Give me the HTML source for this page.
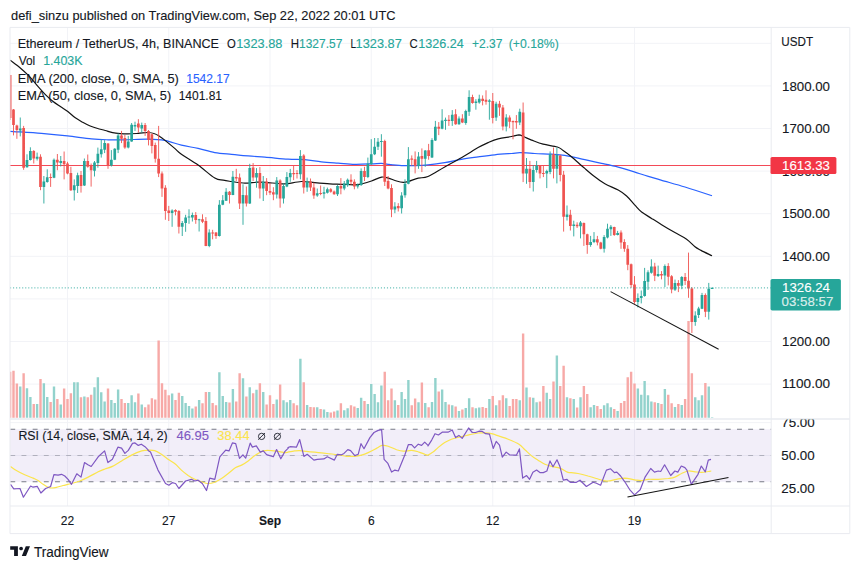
<!DOCTYPE html>
<html><head><meta charset="utf-8"><title>ETHUSDT chart</title>
<style>
html,body{margin:0;padding:0;background:#fff;}
body{width:860px;height:569px;overflow:hidden;position:relative;font-family:"Liberation Sans",sans-serif;color:#131722;}
svg{position:absolute;left:0;top:0;display:block;}
text{font-family:"Liberation Sans",sans-serif;}
</style></head><body>
<svg width="860" height="569" viewBox="0 0 860 569">
<rect width="860" height="569" fill="#ffffff"/>
<defs><clipPath id="cm"><rect x="10" y="27.4" width="761.2" height="391.6"/></clipPath><clipPath id="cr"><rect x="10" y="419.5" width="839.8" height="86.5"/></clipPath></defs>
<path d="M10 384.10H771.2M10 341.50H771.2M10 298.90H771.2M10 256.30H771.2M10 213.70H771.2M10 171.10H771.2M10 128.50H771.2M10 85.90H771.2M10 43.30H771.2M67.50 27.4V506M168.75 27.4V506M270.00 27.4V506M371.25 27.4V506M492.75 27.4V506M634.50 27.4V506M10 422.62H771.2M10 455.50H771.2M10 488.38H771.2" stroke="#f2f3f7" stroke-width="1" fill="none"/>
<g clip-path="url(#cm)">
<path d="M19.05 417.8v-31.41h2.4v31.41zM25.80 417.8v-29.57h2.4v29.57zM29.18 417.8v-20.88h2.4v20.88zM35.92 417.8v-13.87h2.4v13.87zM42.67 417.8v-34.58h2.4v34.58zM46.05 417.8v-20.88h2.4v20.88zM52.80 417.8v-31.41h2.4v31.41zM59.55 417.8v-13.36h2.4v13.36zM73.05 417.8v-35.58h2.4v35.58zM76.42 417.8v-35.58h2.4v35.58zM83.17 417.8v-21.38h2.4v21.38zM93.30 417.8v-30.57h2.4v30.57zM96.67 417.8v-40.43h2.4v40.43zM100.05 417.8v-25.56h2.4v25.56zM103.42 417.8v-16.37h2.4v16.37zM110.17 417.8v-17.88h2.4v17.88zM113.55 417.8v-14.70h2.4v14.70zM116.92 417.8v-28.40h2.4v28.40zM127.05 417.8v-14.70h2.4v14.70zM130.43 417.8v-22.55h2.4v22.55zM133.80 417.8v-15.54h2.4v15.54zM140.55 417.8v-13.36h2.4v13.36zM170.93 417.8v-24.22h2.4v24.22zM181.05 417.8v-21.72h2.4v21.72zM184.43 417.8v-14.70h2.4v14.70zM187.80 417.8v-11.69h2.4v11.69zM191.18 417.8v-9.19h2.4v9.19zM197.93 417.8v-17.88h2.4v17.88zM208.05 417.8v-25.89h2.4v25.89zM218.18 417.8v-45.44h2.4v45.44zM221.55 417.8v-21.72h2.4v21.72zM224.93 417.8v-15.87h2.4v15.87zM231.68 417.8v-28.73h2.4v28.73zM241.80 417.8v-39.59h2.4v39.59zM248.55 417.8v-30.57h2.4v30.57zM255.30 417.8v-28.07h2.4v28.07zM262.05 417.8v-25.89h2.4v25.89zM275.55 417.8v-18.38h2.4v18.38zM282.30 417.8v-17.54h2.4v17.54zM285.68 417.8v-15.54h2.4v15.54zM289.05 417.8v-17.88h2.4v17.88zM299.18 417.8v-58.97h2.4v58.97zM305.93 417.8v-12.86h2.4v12.86zM316.05 417.8v-10.52h2.4v10.52zM322.80 417.8v-8.35h2.4v8.35zM326.18 417.8v-5.85h2.4v5.85zM336.30 417.8v-7.18h2.4v7.18zM343.05 417.8v-7.52h2.4v7.52zM346.43 417.8v-9.52h2.4v9.52zM356.55 417.8v-9.69h2.4v9.69zM359.93 417.8v-20.05h2.4v20.05zM366.68 417.8v-13.87h2.4v13.87zM370.05 417.8v-33.75h2.4v33.75zM373.43 417.8v-23.72h2.4v23.72zM376.80 417.8v-15.54h2.4v15.54zM380.18 417.8v-32.24h2.4v32.24zM393.68 417.8v-17.54h2.4v17.54zM400.43 417.8v-25.89h2.4v25.89zM403.80 417.8v-18.71h2.4v18.71zM407.18 417.8v-37.92h2.4v37.92zM417.30 417.8v-15.54h2.4v15.54zM424.05 417.8v-14.70h2.4v14.70zM430.80 417.8v-15.87h2.4v15.87zM434.18 417.8v-39.76h2.4v39.76zM440.93 417.8v-28.40h2.4v28.40zM444.30 417.8v-15.87h2.4v15.87zM451.05 417.8v-12.53h2.4v12.53zM457.80 417.8v-6.68h2.4v6.68zM464.55 417.8v-9.69h2.4v9.69zM467.93 417.8v-19.55h2.4v19.55zM474.68 417.8v-9.52h2.4v9.52zM478.05 417.8v-10.36h2.4v10.36zM488.18 417.8v-18.71h2.4v18.71zM494.93 417.8v-12.53h2.4v12.53zM505.05 417.8v-19.55h2.4v19.55zM518.55 417.8v-17.54h2.4v17.54zM525.30 417.8v-30.40h2.4v30.40zM532.05 417.8v-20.05h2.4v20.05zM535.42 417.8v-15.54h2.4v15.54zM545.55 417.8v-25.06h2.4v25.06zM548.92 417.8v-18.71h2.4v18.71zM555.67 417.8v-62.31h2.4v62.31zM565.80 417.8v-20.55h2.4v20.55zM572.55 417.8v-18.71h2.4v18.71zM579.30 417.8v-20.55h2.4v20.55zM589.42 417.8v-10.52h2.4v10.52zM592.80 417.8v-12.86h2.4v12.86zM602.92 417.8v-12.53h2.4v12.53zM606.30 417.8v-14.53h2.4v14.53zM609.67 417.8v-10.52h2.4v10.52zM616.42 417.8v-6.68h2.4v6.68zM636.67 417.8v-29.23h2.4v29.23zM640.05 417.8v-23.05h2.4v23.05zM643.42 417.8v-36.75h2.4v36.75zM646.80 417.8v-22.55h2.4v22.55zM650.17 417.8v-16.37h2.4v16.37zM656.92 417.8v-14.70h2.4v14.70zM663.67 417.8v-28.73h2.4v28.73zM673.80 417.8v-10.86h2.4v10.86zM680.55 417.8v-12.86h2.4v12.86zM694.05 417.8v-20.55h2.4v20.55zM697.42 417.8v-17.54h2.4v17.54zM700.80 417.8v-22.55h2.4v22.55zM707.55 417.8v-31.24h2.4v31.24zM710.92 417.8v-0.67h2.4v0.67z" fill="#92d2cc"/>
<path d="M8.93 417.8v-45.94h2.4v45.94zM12.30 417.8v-47.11h2.4v47.11zM15.68 417.8v-34.25h2.4v34.25zM22.43 417.8v-44.60h2.4v44.60zM32.55 417.8v-13.87h2.4v13.87zM39.30 417.8v-38.76h2.4v38.76zM49.42 417.8v-15.87h2.4v15.87zM56.17 417.8v-18.88h2.4v18.88zM62.92 417.8v-29.23h2.4v29.23zM66.30 417.8v-18.71h2.4v18.71zM69.67 417.8v-24.56h2.4v24.56zM79.80 417.8v-20.55h2.4v20.55zM86.55 417.8v-20.55h2.4v20.55zM89.92 417.8v-23.05h2.4v23.05zM106.80 417.8v-29.23h2.4v29.23zM120.30 417.8v-18.88h2.4v18.88zM123.67 417.8v-14.70h2.4v14.70zM137.18 417.8v-24.22h2.4v24.22zM143.93 417.8v-10.52h2.4v10.52zM147.30 417.8v-13.36h2.4v13.36zM150.68 417.8v-19.55h2.4v19.55zM154.05 417.8v-18.38h2.4v18.38zM157.43 417.8v-77.35h2.4v77.35zM160.80 417.8v-34.58h2.4v34.58zM164.18 417.8v-28.07h2.4v28.07zM167.55 417.8v-22.55h2.4v22.55zM174.30 417.8v-17.88h2.4v17.88zM177.68 417.8v-25.06h2.4v25.06zM194.55 417.8v-11.36h2.4v11.36zM201.30 417.8v-14.53h2.4v14.53zM204.68 417.8v-25.89h2.4v25.89zM211.43 417.8v-14.70h2.4v14.70zM214.80 417.8v-12.53h2.4v12.53zM228.30 417.8v-15.37h2.4v15.37zM235.05 417.8v-16.37h2.4v16.37zM238.43 417.8v-44.60h2.4v44.60zM245.18 417.8v-21.38h2.4v21.38zM251.93 417.8v-24.56h2.4v24.56zM258.68 417.8v-34.58h2.4v34.58zM265.43 417.8v-13.36h2.4v13.36zM268.80 417.8v-22.55h2.4v22.55zM272.18 417.8v-13.70h2.4v13.70zM278.93 417.8v-33.41h2.4v33.41zM292.43 417.8v-14.53h2.4v14.53zM295.80 417.8v-12.53h2.4v12.53zM302.55 417.8v-35.58h2.4v35.58zM309.30 417.8v-10.86h2.4v10.86zM312.68 417.8v-10.52h2.4v10.52zM319.43 417.8v-8.85h2.4v8.85zM329.55 417.8v-5.35h2.4v5.35zM332.93 417.8v-6.35h2.4v6.35zM339.68 417.8v-14.53h2.4v14.53zM349.80 417.8v-12.53h2.4v12.53zM353.18 417.8v-11.36h2.4v11.36zM363.30 417.8v-16.71h2.4v16.71zM383.55 417.8v-45.94h2.4v45.94zM386.93 417.8v-17.54h2.4v17.54zM390.30 417.8v-29.23h2.4v29.23zM397.05 417.8v-12.86h2.4v12.86zM410.55 417.8v-12.53h2.4v12.53zM413.93 417.8v-19.21h2.4v19.21zM420.68 417.8v-35.42h2.4v35.42zM427.43 417.8v-10.52h2.4v10.52zM437.55 417.8v-26.39h2.4v26.39zM447.68 417.8v-13.36h2.4v13.36zM454.43 417.8v-11.36h2.4v11.36zM461.18 417.8v-8.35h2.4v8.35zM471.30 417.8v-10.52h2.4v10.52zM481.43 417.8v-10.86h2.4v10.86zM484.80 417.8v-9.69h2.4v9.69zM491.55 417.8v-21.72h2.4v21.72zM498.30 417.8v-17.54h2.4v17.54zM501.68 417.8v-22.55h2.4v22.55zM508.43 417.8v-11.69h2.4v11.69zM511.80 417.8v-18.71h2.4v18.71zM515.17 417.8v-18.71h2.4v18.71zM521.92 417.8v-84.36h2.4v84.36zM528.67 417.8v-20.55h2.4v20.55zM538.80 417.8v-16.37h2.4v16.37zM542.17 417.8v-31.74h2.4v31.74zM552.30 417.8v-36.42h2.4v36.42zM559.05 417.8v-31.74h2.4v31.74zM562.42 417.8v-52.12h2.4v52.12zM569.17 417.8v-19.55h2.4v19.55zM575.92 417.8v-10.36h2.4v10.36zM582.67 417.8v-31.74h2.4v31.74zM586.05 417.8v-23.72h2.4v23.72zM596.17 417.8v-11.69h2.4v11.69zM599.55 417.8v-8.69h2.4v8.69zM613.05 417.8v-8.69h2.4v8.69zM619.80 417.8v-14.70h2.4v14.70zM623.17 417.8v-16.71h2.4v16.71zM626.55 417.8v-40.43h2.4v40.43zM629.92 417.8v-45.94h2.4v45.94zM633.30 417.8v-34.25h2.4v34.25zM653.55 417.8v-15.54h2.4v15.54zM660.30 417.8v-13.70h2.4v13.70zM667.05 417.8v-23.05h2.4v23.05zM670.42 417.8v-14.53h2.4v14.53zM677.17 417.8v-13.87h2.4v13.87zM683.92 417.8v-18.88h2.4v18.88zM687.30 417.8v-96.89h2.4v96.89zM690.67 417.8v-44.60h2.4v44.60zM704.17 417.8v-34.75h2.4v34.75z" fill="#f7a9a7"/>
<path d="M10 165.5H771.2" stroke="#f23645" stroke-opacity="0.9" stroke-width="1.15" fill="none"/>
<path d="M10.0 131.3C15.2 131.7 31.8 132.6 41.4 133.4C51.0 134.2 59.1 135.0 67.5 135.9C75.8 136.8 84.7 138.2 91.5 138.8C98.3 139.5 102.6 139.6 108.2 139.8C113.8 140.0 118.4 139.9 125.0 139.8C131.6 139.7 141.4 139.1 148.0 139.2C154.6 139.3 159.1 139.4 164.7 140.4C170.3 141.4 175.8 143.8 181.4 145.1C187.0 146.4 192.5 147.2 198.1 148.4C203.7 149.7 209.2 151.6 214.8 152.6C220.4 153.6 225.9 153.8 231.5 154.3C237.1 154.9 242.6 155.4 248.2 155.9C253.8 156.4 258.3 156.6 264.9 157.1C271.5 157.6 281.4 158.8 288.0 159.2C294.6 159.6 299.1 159.3 304.7 159.7C310.3 160.1 315.8 161.2 321.4 161.8C327.0 162.4 332.5 162.7 338.1 163.1C343.7 163.5 349.2 164.2 354.8 164.3C360.4 164.4 367.0 164.0 371.5 163.8C376.0 163.7 378.8 163.3 381.6 163.4C384.4 163.5 384.9 163.9 388.2 164.3C391.5 164.7 397.1 165.4 401.6 165.6C406.1 165.8 410.6 165.7 415.0 165.6C419.4 165.5 423.1 165.4 428.0 164.9C432.9 164.4 439.1 163.6 444.7 162.7C450.3 161.8 455.8 160.3 461.4 159.3C467.0 158.3 472.5 157.6 478.1 156.8C483.7 156.1 489.2 155.4 494.8 154.8C500.4 154.2 507.3 153.8 511.5 153.5C515.7 153.2 516.0 152.7 519.9 152.7C523.8 152.7 529.5 153.2 534.7 153.5C540.0 153.8 546.4 153.9 551.4 154.2C556.4 154.5 559.2 154.5 564.8 155.4C570.4 156.3 578.7 158.4 584.8 159.7C590.9 161.0 595.9 162.2 601.5 163.4C607.1 164.6 612.6 165.7 618.2 167.1C623.8 168.5 629.9 170.5 634.9 172.1C639.9 173.7 643.9 175.1 648.3 176.4C652.6 177.7 654.9 178.3 661.0 180.1C667.1 181.9 676.5 184.4 685.0 187.0C693.5 189.6 707.5 194.3 712.0 195.8" stroke="#2962ff" stroke-width="1.2" fill="none" stroke-linejoin="round"/>
<path d="M10.2 60.2C11.8 61.5 16.9 65.1 20.0 67.7C23.1 70.3 25.9 72.8 28.9 75.9C31.9 79.0 35.1 83.3 37.9 86.4C40.6 89.5 42.9 92.1 45.4 94.6C47.9 97.1 50.3 99.3 52.8 101.3C55.3 103.3 57.8 104.9 60.3 106.6C62.8 108.3 65.3 109.6 67.8 111.5C70.3 113.4 72.8 116.0 75.3 117.8C77.8 119.6 80.2 120.9 82.7 122.3C85.2 123.7 87.7 125.0 90.2 126.0C92.7 127.0 95.2 127.8 97.7 128.5C100.2 129.2 102.7 129.8 105.2 130.5C107.7 131.2 110.1 132.2 112.6 132.7C115.1 133.2 117.5 133.4 120.1 133.6C122.7 133.8 125.0 133.9 128.0 133.9C131.0 133.9 135.0 133.6 138.3 133.4C141.6 133.2 145.3 132.4 148.0 132.5C150.7 132.6 152.8 133.0 154.7 133.7C156.6 134.3 158.0 135.3 159.7 136.4C161.4 137.5 162.2 138.1 164.7 140.1C167.2 142.1 171.9 146.0 174.7 148.4C177.5 150.8 177.5 151.5 181.4 154.3C185.3 157.1 192.5 161.1 198.1 165.1C203.7 169.1 210.6 175.6 214.8 178.1C219.0 180.6 220.4 179.6 223.2 180.2C226.0 180.8 227.9 181.0 231.5 181.5C235.1 182.0 240.7 183.1 244.9 183.2C249.1 183.3 253.3 182.3 256.6 182.2C259.9 182.0 260.7 182.0 264.9 182.3C269.1 182.6 277.8 183.6 281.6 183.8C285.5 184.0 284.7 184.0 288.0 183.6C291.3 183.2 296.9 181.7 301.4 181.5C305.8 181.3 310.0 182.2 314.7 182.6C319.4 183.0 325.3 183.5 329.8 183.8C334.3 184.1 337.3 184.1 341.5 184.3C345.7 184.5 351.2 184.9 354.8 184.8C358.4 184.7 360.4 184.1 363.2 183.5C366.0 182.9 368.4 182.1 371.5 181.0C374.6 179.9 378.8 177.6 381.6 177.1C384.4 176.6 385.7 177.4 388.2 178.1C390.7 178.8 394.1 180.3 396.6 181.0C399.1 181.7 401.4 182.2 403.3 182.3C405.2 182.4 405.8 182.2 408.3 181.5C410.8 180.8 415.0 178.9 418.3 178.1C421.6 177.3 423.6 178.4 428.0 176.5C432.4 174.6 439.1 170.0 444.7 166.9C450.3 163.8 455.8 160.9 461.4 157.7C467.0 154.5 473.7 150.1 478.1 147.6C482.6 145.1 484.8 144.1 488.1 142.6C491.5 141.1 494.3 139.8 498.2 138.8C502.1 137.8 508.0 137.2 511.5 136.5C515.0 135.8 516.9 134.8 519.0 134.8C521.1 134.9 522.0 135.9 524.1 136.8C526.2 137.7 528.4 138.9 531.6 140.1C534.8 141.3 538.8 143.0 543.1 144.2C547.4 145.3 554.0 146.0 557.3 147.0C560.6 148.0 560.7 148.8 563.1 150.4C565.5 152.0 567.9 153.7 571.5 156.7C575.1 159.7 580.9 165.1 584.8 168.4C588.7 171.8 591.4 174.2 594.8 176.8C598.1 179.4 601.0 181.6 604.9 183.8C608.8 186.0 614.6 188.1 618.2 190.1C621.8 192.1 623.8 193.5 626.6 196.0C629.4 198.5 632.4 202.5 634.9 205.2C637.4 207.9 638.8 209.8 641.6 212.0C644.4 214.2 648.3 216.3 651.6 218.4C654.9 220.5 657.7 222.3 661.6 224.7C665.5 227.1 670.7 230.2 674.9 232.6C679.1 235.0 683.2 236.8 686.6 239.2C690.0 241.6 692.6 244.9 695.0 246.8C697.4 248.7 698.2 248.9 701.0 250.4C703.8 251.9 710.2 254.9 712.0 255.8" stroke="#141414" stroke-width="1.2" fill="none" stroke-linejoin="round"/>
<path d="M20.25 117.5V136.4M27.00 154.3V167.7M30.38 147.3V160.5M37.12 152.6V160.5M43.88 176.0V203.5M47.25 169.3V182.7M54.00 158.5V178.2M60.75 156.0V166.5M74.25 179.4V200.5M77.62 172.7V193.0M84.38 158.5V186.0M94.50 161.0V176.5M97.88 147.6V167.7M101.25 139.3V157.6M104.62 140.1V153.1M111.38 150.1V166.5M114.75 148.1V160.1M118.12 133.4V153.1M128.25 135.9V148.4M131.62 123.0V141.8M135.00 121.7V130.9M141.75 122.6V132.6M172.12 209.3V226.8M182.25 221.0V236.0M185.62 214.8V231.8M189.00 209.3V223.8M192.38 212.6V221.5M199.12 218.8V231.5M209.25 229.3V247.2M219.38 200.1V236.5M222.75 195.1V205.2M226.12 188.1V201.0M232.88 171.0V195.2M243.00 184.3V224.8M249.75 163.8V204.0M256.50 168.1V187.7M263.25 176.0V201.0M276.75 177.1V198.5M283.50 183.5V203.5M286.88 172.1V187.2M290.25 168.9V181.8M300.38 150.1V179.3M307.12 177.6V191.8M317.25 188.5V196.8M324.00 186.8V198.5M327.38 187.6V193.5M337.50 185.1V196.0M344.25 181.0V190.2M347.62 178.5V186.8M357.75 183.5V188.5M361.12 168.4V186.0M367.88 157.6V178.1M371.25 139.2V164.8M374.62 138.0V155.1M378.00 138.0V150.0M381.38 134.2V156.7M394.88 202.2V213.2M401.62 192.2V213.5M405.00 179.3V197.7M408.38 147.1V184.3M418.50 152.1V168.8M425.25 150.1V166.8M432.00 138.2V158.0M435.38 120.9V141.0M442.12 109.2V129.3M445.50 117.6V129.8M452.25 110.1V125.9M459.00 116.4V124.8M465.75 109.7V124.8M469.12 90.3V115.9M475.88 99.2V109.7M479.25 94.7V103.7M489.38 99.2V119.7M496.12 101.7V120.9M506.25 114.2V131.4M519.75 108.7V125.1M526.50 158.0V183.8M533.25 165.1V191.5M536.62 160.9V172.6M546.75 169.7V188.1M550.12 151.4V174.2M556.88 147.5V183.4M567.00 205.5V220.5M573.75 220.7V236.4M580.50 221.0V238.4M590.62 235.9V246.8M594.00 232.1V243.1M604.12 235.1V252.6M607.50 223.7V238.4M610.88 225.0V235.9M617.62 230.9V235.4M637.88 293.4V307.4M641.25 290.5V303.4M644.62 267.9V296.7M648.00 270.3V289.9M651.38 259.3V273.7M658.12 265.6V277.0M664.88 264.4V287.0M675.00 279.6V291.0M681.75 276.1V289.2M695.25 311.3V325.8M698.62 306.8V318.0M702.00 292.9V309.1M708.75 282.9V319.6M712.12 287.7V288.9" stroke="#26a69a" stroke-width="0.9" fill="none"/>
<path d="M10.12 75.0V120.0M13.50 109.0V135.4M16.88 124.7V138.8M23.62 125.9V169.8M33.75 150.1V163.5M40.50 154.3V190.2M50.62 173.5V186.9M57.38 154.0V170.2M64.12 151.5V179.4M67.50 161.8V174.3M70.88 166.8V191.0M81.00 171.0V192.6M87.75 154.5V167.7M91.12 163.5V186.6M108.00 143.1V168.8M121.50 130.9V143.1M124.88 135.0V148.8M138.38 119.2V132.6M145.12 123.0V135.9M148.50 130.0V145.4M151.88 133.4V153.4M155.25 142.6V162.6M158.62 125.9V177.1M162.00 171.5V196.9M165.38 185.2V219.8M168.75 205.9V221.0M175.50 209.3V215.4M178.88 210.1V233.5M195.75 212.1V223.8M202.50 214.3V223.1M205.88 217.1V246.2M212.62 229.8V239.3M216.00 232.1V238.8M229.50 191.0V203.5M236.25 168.8V181.0M239.62 173.5V209.0M246.38 186.5V206.5M253.12 163.1V181.0M259.88 167.1V198.5M266.62 178.1V195.2M270.00 183.2V194.9M273.38 187.2V200.2M280.12 179.3V207.7M293.62 165.1V180.1M297.00 170.1V178.5M303.75 154.2V193.5M310.50 178.5V191.0M313.88 182.6V198.8M320.62 185.5V195.2M330.75 188.1V192.7M334.12 190.5V194.8M340.88 178.1V194.3M351.00 174.3V184.8M354.38 179.3V189.3M364.50 166.8V181.0M384.75 139.7V186.0M388.12 176.0V189.3M391.50 184.3V217.2M398.25 203.2V211.5M411.75 155.4V165.9M415.12 151.4V173.4M421.88 148.4V172.1M428.62 143.9V159.7M438.75 122.1V135.1M448.88 115.1V125.9M455.62 109.2V124.8M462.38 114.2V123.1M472.50 94.7V103.7M482.62 95.4V105.4M486.00 90.3V104.7M492.75 93.0V123.4M499.50 100.9V115.9M502.88 105.0V130.4M509.62 115.4V128.1M513.00 120.5V139.3M516.38 115.1V128.8M523.12 102.5V182.1M529.88 160.9V188.1M540.00 165.0V178.4M543.38 165.4V177.1M553.50 147.5V178.4M560.25 154.7V181.4M563.62 170.9V231.6M570.38 209.8V230.5M577.12 222.3V228.0M583.88 222.5V245.9M587.25 233.7V253.8M597.38 235.9V245.4M600.75 241.8V249.3M614.25 226.7V235.9M621.00 230.4V248.8M624.38 239.2V251.8M627.75 245.1V270.2M631.12 263.5V287.8M634.50 276.1V303.8M654.75 262.8V281.1M661.50 271.1V279.4M668.25 263.2V285.4M671.62 275.1V293.3M678.38 280.1V292.1M685.12 273.0V285.0M688.50 252.6V297.8M691.88 287.1V333.0M705.38 293.4V317.1" stroke="#ef5350" stroke-width="0.9" fill="none"/>
<path d="M18.90 128.4h2.7V130.4h-2.7zM25.65 160.1h2.7V167.3h-2.7zM29.02 151.0h2.7V160.1h-2.7zM35.77 156.8h2.7V158.8h-2.7zM42.52 181.5h2.7V186.9h-2.7zM45.90 177.2h2.7V181.9h-2.7zM52.65 159.8h2.7V177.7h-2.7zM59.40 161.0h2.7V163.1h-2.7zM72.90 185.2h2.7V190.2h-2.7zM76.28 175.2h2.7V186.0h-2.7zM83.03 161.0h2.7V185.5h-2.7zM93.15 162.6h2.7V170.7h-2.7zM96.53 153.8h2.7V163.1h-2.7zM99.90 149.3h2.7V154.3h-2.7zM103.28 143.1h2.7V149.8h-2.7zM110.03 159.8h2.7V165.5h-2.7zM113.40 148.8h2.7V159.8h-2.7zM116.78 135.4h2.7V149.8h-2.7zM126.90 141.4h2.7V147.6h-2.7zM130.28 124.7h2.7V141.4h-2.7zM133.65 125.0h2.7V126.5h-2.7zM140.40 125.0h2.7V128.4h-2.7zM170.78 210.4h2.7V213.1h-2.7zM180.90 223.1h2.7V226.8h-2.7zM184.28 217.6h2.7V223.1h-2.7zM187.65 216.4h2.7V217.6h-2.7zM191.03 215.1h2.7V217.6h-2.7zM197.78 219.2h2.7V220.2h-2.7zM207.90 232.6h2.7V246.0h-2.7zM218.03 204.7h2.7V236.0h-2.7zM221.40 200.3h2.7V204.8h-2.7zM224.78 191.7h2.7V200.7h-2.7zM231.53 176.8h2.7V194.9h-2.7zM241.65 195.1h2.7V203.5h-2.7zM248.40 168.1h2.7V203.5h-2.7zM255.15 173.1h2.7V177.6h-2.7zM261.90 181.8h2.7V188.5h-2.7zM275.40 180.5h2.7V194.4h-2.7zM282.15 186.0h2.7V198.5h-2.7zM285.52 177.1h2.7V186.5h-2.7zM288.90 172.9h2.7V177.3h-2.7zM299.02 155.9h2.7V174.3h-2.7zM305.77 181.5h2.7V187.6h-2.7zM315.90 193.2h2.7V195.5h-2.7zM322.65 192.2h2.7V193.8h-2.7zM326.02 189.3h2.7V192.7h-2.7zM336.15 186.0h2.7V194.3h-2.7zM342.90 183.5h2.7V188.5h-2.7zM346.27 179.8h2.7V185.1h-2.7zM356.40 184.8h2.7V186.5h-2.7zM359.77 170.9h2.7V185.1h-2.7zM366.52 163.8h2.7V177.1h-2.7zM369.90 154.2h2.7V164.3h-2.7zM373.27 146.7h2.7V154.2h-2.7zM376.65 141.7h2.7V146.7h-2.7zM380.02 140.9h2.7V142.0h-2.7zM393.52 206.5h2.7V209.4h-2.7zM400.27 195.5h2.7V208.2h-2.7zM403.65 183.8h2.7V195.2h-2.7zM407.02 159.2h2.7V183.8h-2.7zM417.15 156.4h2.7V165.9h-2.7zM423.90 150.4h2.7V158.7h-2.7zM430.65 140.1h2.7V157.5h-2.7zM434.02 126.8h2.7V140.5h-2.7zM440.77 120.4h2.7V128.8h-2.7zM444.15 119.7h2.7V120.9h-2.7zM450.90 114.7h2.7V120.9h-2.7zM457.65 118.4h2.7V124.3h-2.7zM464.40 110.9h2.7V123.1h-2.7zM467.77 97.0h2.7V111.7h-2.7zM474.52 101.4h2.7V103.0h-2.7zM477.90 98.7h2.7V102.5h-2.7zM488.02 100.4h2.7V101.7h-2.7zM494.77 103.7h2.7V117.6h-2.7zM504.90 117.6h2.7V126.4h-2.7zM518.40 111.7h2.7V122.6h-2.7zM525.15 168.7h2.7V173.4h-2.7zM531.90 170.1h2.7V182.1h-2.7zM535.27 165.4h2.7V170.1h-2.7zM545.40 170.9h2.7V173.4h-2.7zM548.77 154.2h2.7V172.1h-2.7zM555.52 155.0h2.7V168.7h-2.7zM565.65 214.5h2.7V217.1h-2.7zM572.40 224.5h2.7V226.0h-2.7zM579.15 222.6h2.7V226.2h-2.7zM589.27 242.1h2.7V245.1h-2.7zM592.65 239.2h2.7V242.1h-2.7zM602.77 237.1h2.7V248.8h-2.7zM606.15 228.7h2.7V237.6h-2.7zM609.52 226.7h2.7V229.2h-2.7zM616.27 233.1h2.7V235.1h-2.7zM636.52 297.9h2.7V302.1h-2.7zM639.90 296.1h2.7V297.9h-2.7zM643.27 281.1h2.7V296.1h-2.7zM646.65 272.3h2.7V281.7h-2.7zM650.02 266.6h2.7V272.8h-2.7zM656.77 273.9h2.7V276.1h-2.7zM663.52 266.1h2.7V275.6h-2.7zM673.65 283.0h2.7V289.7h-2.7zM680.40 277.1h2.7V285.8h-2.7zM693.90 315.5h2.7V322.1h-2.7zM697.27 308.4h2.7V315.1h-2.7zM700.65 295.1h2.7V308.8h-2.7zM707.40 288.7h2.7V311.8h-2.7zM710.77 287.7h2.7V288.9h-2.7z" fill="#26a69a"/>
<path d="M8.78 75.0h2.7V118.0h-2.7zM12.15 109.6h2.7V125.0h-2.7zM15.53 125.4h2.7V130.0h-2.7zM22.27 128.0h2.7V167.7h-2.7zM32.40 151.0h2.7V158.5h-2.7zM39.15 156.8h2.7V186.9h-2.7zM49.27 177.0h2.7V178.0h-2.7zM56.02 159.8h2.7V162.6h-2.7zM62.77 161.0h2.7V164.3h-2.7zM66.15 163.5h2.7V173.5h-2.7zM69.53 173.0h2.7V190.2h-2.7zM79.65 175.0h2.7V186.0h-2.7zM86.40 161.0h2.7V166.8h-2.7zM89.78 165.9h2.7V170.3h-2.7zM106.65 143.4h2.7V165.2h-2.7zM120.15 135.4h2.7V138.8h-2.7zM123.53 138.1h2.7V147.6h-2.7zM137.03 123.4h2.7V127.6h-2.7zM143.78 125.0h2.7V130.9h-2.7zM147.15 130.9h2.7V140.1h-2.7zM150.53 134.2h2.7V145.9h-2.7zM153.90 145.0h2.7V158.8h-2.7zM157.28 158.8h2.7V173.5h-2.7zM160.65 173.5h2.7V188.5h-2.7zM164.03 187.8h2.7V210.9h-2.7zM167.40 210.4h2.7V213.1h-2.7zM174.15 210.1h2.7V211.8h-2.7zM177.53 210.9h2.7V226.8h-2.7zM194.40 215.1h2.7V220.1h-2.7zM201.15 219.3h2.7V221.8h-2.7zM204.53 221.0h2.7V246.0h-2.7zM211.28 232.6h2.7V233.6h-2.7zM214.65 232.6h2.7V236.0h-2.7zM228.15 191.8h2.7V194.9h-2.7zM234.90 177.1h2.7V178.5h-2.7zM238.28 177.6h2.7V203.5h-2.7zM245.03 195.2h2.7V203.5h-2.7zM251.78 167.6h2.7V177.6h-2.7zM258.52 173.1h2.7V188.5h-2.7zM265.27 181.5h2.7V191.0h-2.7zM268.65 191.0h2.7V192.7h-2.7zM272.02 192.2h2.7V194.4h-2.7zM278.77 180.5h2.7V198.5h-2.7zM292.27 173.1h2.7V174.3h-2.7zM295.65 173.1h2.7V174.1h-2.7zM302.40 155.4h2.7V187.6h-2.7zM309.15 181.5h2.7V187.6h-2.7zM312.52 187.6h2.7V195.5h-2.7zM319.27 193.1h2.7V194.1h-2.7zM329.40 189.3h2.7V191.8h-2.7zM332.77 191.5h2.7V194.3h-2.7zM339.52 186.0h2.7V188.5h-2.7zM349.65 179.8h2.7V181.8h-2.7zM353.02 181.8h2.7V186.5h-2.7zM363.15 170.9h2.7V177.1h-2.7zM383.40 140.9h2.7V181.8h-2.7zM386.77 181.0h2.7V188.5h-2.7zM390.15 188.1h2.7V209.4h-2.7zM396.90 206.0h2.7V208.2h-2.7zM410.40 158.4h2.7V159.7h-2.7zM413.77 159.2h2.7V165.9h-2.7zM420.52 155.9h2.7V158.7h-2.7zM427.27 150.3h2.7V155.9h-2.7zM437.40 126.8h2.7V128.8h-2.7zM447.52 119.7h2.7V120.9h-2.7zM454.27 114.2h2.7V124.3h-2.7zM461.02 118.4h2.7V122.6h-2.7zM471.15 97.0h2.7V103.0h-2.7zM481.27 98.7h2.7V100.9h-2.7zM484.65 99.7h2.7V101.7h-2.7zM491.40 100.9h2.7V118.1h-2.7zM498.15 103.7h2.7V107.6h-2.7zM501.52 107.6h2.7V126.4h-2.7zM508.27 117.6h2.7V121.8h-2.7zM511.65 121.0h2.7V122.2h-2.7zM515.02 120.9h2.7V122.6h-2.7zM521.77 112.6h2.7V173.4h-2.7zM528.52 168.7h2.7V182.1h-2.7zM538.65 165.4h2.7V173.4h-2.7zM542.02 173.0h2.7V174.0h-2.7zM552.15 154.2h2.7V168.7h-2.7zM558.90 155.4h2.7V175.1h-2.7zM562.27 174.7h2.7V216.8h-2.7zM569.02 214.8h2.7V226.0h-2.7zM575.77 224.7h2.7V226.2h-2.7zM582.52 223.0h2.7V234.2h-2.7zM585.90 234.2h2.7V245.1h-2.7zM596.02 239.2h2.7V242.6h-2.7zM599.40 242.6h2.7V248.8h-2.7zM612.90 227.1h2.7V235.1h-2.7zM619.65 232.6h2.7V242.6h-2.7zM623.02 242.1h2.7V248.8h-2.7zM626.40 248.8h2.7V264.8h-2.7zM629.77 264.3h2.7V285.0h-2.7zM633.15 284.5h2.7V302.1h-2.7zM653.40 266.6h2.7V275.8h-2.7zM660.15 273.9h2.7V275.4h-2.7zM666.90 266.1h2.7V276.7h-2.7zM670.27 276.3h2.7V289.5h-2.7zM677.02 283.0h2.7V285.8h-2.7zM683.77 277.1h2.7V281.1h-2.7zM687.15 280.8h2.7V288.4h-2.7zM690.52 288.4h2.7V322.1h-2.7zM704.02 295.1h2.7V311.8h-2.7z" fill="#ef5350"/>
<path d="M10 287.9H771.2" stroke="#26a69a" stroke-width="1" stroke-dasharray="1.1 1.94" stroke-opacity="0.85" fill="none"/>
<path d="M610.6 291.6L718.6 349.2" stroke="#141414" stroke-width="1.05" fill="none"/>
</g>
<g clip-path="url(#cr)">
<rect x="10" y="429.20" width="761.2" height="52.60" fill="#7e57c2" fill-opacity="0.1"/>
<path d="M10 429.20H771.2" stroke="#787b86" stroke-opacity="1" stroke-width="1.1" stroke-dasharray="4.9 6.28" stroke-dashoffset="-0.3" fill="none"/>
<path d="M10 455.50H771.2" stroke="#787b86" stroke-opacity="0.55" stroke-width="0.9" stroke-dasharray="4.9 6.28" stroke-dashoffset="-0.3" fill="none"/>
<path d="M10 481.80H771.2" stroke="#787b86" stroke-opacity="1" stroke-width="1.1" stroke-dasharray="4.9 6.28" stroke-dashoffset="-0.3" fill="none"/>
<path d="M10.5 466.4C11.5 467.1 14.0 469.1 16.4 470.5C18.7 471.9 21.9 473.5 24.7 474.8C27.5 476.1 30.8 477.2 33.1 478.1C35.3 479.1 36.4 479.5 38.1 480.5C39.7 481.5 41.4 483.2 43.1 484.3C44.8 485.4 46.6 486.6 48.1 487.2C49.5 487.8 50.4 488.0 51.8 488.0C53.2 488.0 54.6 487.8 56.5 487.3C58.3 486.9 60.6 486.1 63.1 485.5C65.6 484.9 68.7 484.2 71.5 483.5C74.3 482.7 77.0 482.0 79.8 481.0C82.6 479.9 85.1 478.7 88.2 477.1C91.3 475.6 95.4 473.2 98.2 471.8C101.0 470.4 102.5 469.9 104.9 469.0C107.3 468.1 109.6 467.8 112.4 466.4C115.2 465.1 118.4 462.8 121.6 460.9C124.8 459.0 128.3 456.8 131.6 455.1C135.0 453.4 138.9 451.8 141.7 450.9C144.4 450.1 145.8 450.1 148.0 450.1C150.2 450.0 152.5 449.9 154.7 450.6C156.9 451.3 159.0 452.7 161.4 454.3C163.7 455.8 166.5 458.1 168.9 459.8C171.2 461.4 173.5 462.6 175.6 464.3C177.6 466.0 179.3 468.3 181.4 470.1C183.5 472.0 185.9 473.9 188.1 475.5C190.3 477.0 192.6 478.3 194.8 479.3C197.0 480.4 199.2 481.1 201.5 481.8C203.7 482.5 205.9 483.4 208.1 483.5C210.4 483.5 212.6 483.0 214.8 482.2C217.0 481.3 219.3 479.9 221.5 478.5C223.7 477.0 225.8 475.3 228.2 473.5C230.6 471.7 233.5 469.0 235.7 467.6C237.9 466.2 239.5 466.2 241.6 465.1C243.6 464.0 246.0 462.5 248.2 460.9C250.5 459.4 252.4 457.3 254.9 455.6C257.4 453.9 260.5 451.8 263.3 450.9C266.1 450.1 269.1 450.5 271.6 450.6C274.1 450.7 276.1 451.1 278.3 451.4C280.5 451.8 283.4 452.5 285.0 452.6C286.6 452.7 286.4 452.4 288.0 452.1C289.6 451.8 292.7 451.2 294.7 450.9C296.6 450.7 297.7 450.5 299.7 450.6C301.6 450.7 303.9 451.1 306.4 451.4C308.9 451.7 312.2 452.0 314.7 452.2C317.2 452.5 318.9 452.7 321.4 452.9C323.9 453.2 327.0 453.5 329.8 453.8C332.5 454.1 335.3 454.3 338.1 454.8C340.9 455.2 343.7 456.0 346.5 456.3C349.3 456.5 352.3 456.5 354.8 456.3C357.3 456.1 359.3 455.7 361.5 455.1C363.7 454.5 366.0 453.6 368.2 452.6C370.4 451.6 373.1 450.2 374.9 449.2C376.7 448.3 377.8 447.4 379.1 446.7C380.3 446.1 380.9 445.5 382.4 445.4C383.9 445.3 385.9 445.5 388.2 446.2C390.6 447.0 394.1 448.9 396.6 449.8C399.1 450.6 400.8 451.1 403.3 451.2C405.8 451.4 409.1 450.3 411.6 450.4C414.1 450.5 416.1 451.1 418.3 451.8C420.5 452.4 423.4 453.7 425.0 454.3C426.6 454.8 426.7 455.5 428.0 455.1C429.3 454.7 431.3 453.3 433.0 452.1C434.7 450.8 436.1 449.2 438.0 447.6C440.0 446.0 442.5 444.0 444.7 442.6C446.9 441.2 448.6 440.2 451.4 439.2C454.2 438.2 458.3 437.5 461.4 436.7C464.5 436.0 467.0 435.3 469.8 434.7C472.5 434.1 475.6 433.3 478.1 433.0C480.6 432.7 482.6 432.8 484.8 432.9C487.0 433.0 489.0 433.1 491.5 433.7C494.0 434.3 497.0 435.5 499.8 436.4C502.6 437.3 505.0 437.9 508.2 439.2C511.4 440.5 516.3 442.5 519.0 444.2C521.8 446.0 522.8 447.8 524.9 449.8C527.0 451.7 529.4 454.1 531.6 455.9C533.8 457.7 536.0 459.0 538.3 460.4C540.5 461.8 542.7 463.3 544.9 464.3C547.2 465.3 549.1 465.8 551.6 466.4C554.1 467.1 557.5 467.2 560.0 468.1C562.5 469.0 565.3 471.1 566.7 471.8C568.0 472.5 566.1 472.0 568.0 472.3C569.9 472.6 574.7 472.9 578.0 473.5C581.4 474.1 585.0 475.1 588.0 476.0C591.1 476.8 593.9 477.7 596.4 478.5C598.9 479.3 601.1 480.2 603.1 480.6C605.0 481.1 605.9 481.2 608.1 481.0C610.3 480.8 613.7 479.8 616.5 479.3C619.2 478.8 621.7 478.1 624.8 478.1C627.9 478.2 632.0 479.4 634.8 479.8C637.6 480.2 639.3 480.7 641.5 480.6C643.7 480.6 645.4 479.5 648.2 479.3C651.0 479.1 654.9 479.5 658.2 479.3C661.6 479.2 665.4 478.8 668.2 478.5C671.0 478.1 672.7 478.0 674.9 477.1C677.1 476.3 679.4 474.5 681.6 473.5C683.8 472.4 686.1 471.2 688.3 471.0C690.5 470.7 692.7 471.6 695.0 471.8C697.2 472.0 699.4 472.4 701.6 472.3C703.9 472.2 706.7 471.7 708.3 471.5C709.9 471.2 710.8 471.0 711.3 471.0" stroke="#fbe44c" stroke-width="1.2" fill="none" stroke-linejoin="round"/>
<path d="M10.5 484.3 L13.8 488.8 L20.0 488.5 L23.4 497.2 L30.6 486.0 L33.1 487.2 L37.2 486.3 L40.9 493.0 L45.6 488.5 L50.6 486.5 L53.9 474.6 L58.1 475.1 L61.5 474.3 L64.8 476.0 L68.1 479.3 L71.5 484.3 L76.8 473.8 L81.0 477.1 L84.5 462.6 L87.9 464.8 L91.2 466.5 L98.2 456.8 L104.6 450.9 L107.9 462.6 L112.4 459.3 L117.9 447.2 L121.6 448.1 L124.9 453.4 L128.3 450.4 L132.5 443.4 L135.0 442.9 L138.3 445.4 L141.3 444.2 L145.0 446.7 L148.3 450.1 L148.0 450.4 L150.5 452.1 L158.0 470.1 L165.5 483.5 L168.9 485.2 L172.2 482.7 L175.6 483.5 L178.9 488.5 L185.6 481.0 L191.4 479.3 L194.8 481.0 L198.1 480.2 L202.3 483.5 L206.5 490.5 L209.8 478.1 L214.8 479.3 L219.8 456.8 L225.7 450.1 L229.0 450.9 L232.4 442.9 L235.7 443.7 L239.5 458.4 L242.9 454.8 L245.7 458.1 L250.2 443.1 L252.4 447.1 L256.3 445.9 L260.3 452.1 L263.3 450.9 L266.6 454.6 L273.3 456.8 L276.6 449.6 L280.8 458.8 L285.0 451.4 L288.3 448.1 L288.0 447.6 L290.0 446.7 L296.4 447.2 L299.7 439.6 L303.9 456.4 L307.2 454.3 L313.9 460.1 L317.2 459.3 L323.9 458.9 L327.3 456.8 L334.4 460.1 L337.3 454.3 L341.5 454.8 L344.0 453.4 L347.8 449.6 L350.6 450.6 L354.8 455.6 L358.2 454.3 L361.0 443.7 L364.0 448.7 L369.9 437.6 L374.0 432.5 L378.2 430.4 L381.6 429.7 L384.1 459.3 L387.9 463.4 L391.6 472.1 L394.9 470.1 L398.3 471.0 L404.9 454.8 L408.3 444.7 L411.6 444.6 L414.6 447.9 L418.3 444.2 L421.6 445.4 L424.7 442.1 L428.0 445.4 L428.0 445.9 L431.7 440.1 L435.0 433.7 L438.4 435.0 L442.2 432.2 L448.0 432.2 L452.2 430.0 L455.6 437.6 L458.9 435.4 L462.2 438.4 L468.6 428.0 L472.3 432.5 L475.6 432.5 L479.0 431.2 L482.3 431.4 L485.6 433.7 L489.5 434.2 L493.2 448.4 L496.2 441.4 L499.5 445.1 L502.3 457.1 L506.2 452.1 L509.5 454.8 L516.5 455.1 L519.4 448.9 L522.7 478.1 L526.6 475.6 L529.6 479.3 L532.9 472.3 L536.6 470.1 L539.9 472.6 L543.3 472.6 L546.9 471.0 L550.0 460.9 L553.0 466.8 L557.0 459.8 L560.0 466.8 L563.3 480.2 L567.0 479.3 L568.0 480.5 L570.5 482.3 L576.4 482.3 L580.0 480.2 L586.4 486.5 L593.1 482.2 L596.4 483.2 L600.6 485.2 L606.4 470.1 L610.6 468.8 L614.4 472.6 L616.8 472.1 L620.6 476.0 L624.8 481.8 L630.1 490.2 L634.5 494.9 L640.2 489.8 L645.2 476.8 L650.7 468.5 L654.5 472.1 L658.2 471.0 L660.7 471.5 L664.6 464.8 L670.7 475.5 L674.9 471.0 L677.8 472.1 L681.3 466.0 L684.9 467.6 L686.9 470.1 L691.3 484.3 L698.0 474.3 L701.3 466.0 L705.3 471.8 L708.3 460.1 L711.0 459.3" stroke="#7e57c2" stroke-width="1.2" fill="none" stroke-linejoin="round"/>
<path d="M627.5 497L728.5 477.6" stroke="#141414" stroke-width="1.05" fill="none"/>
</g>
<path d="M10 27.4H849.8V533.6H10Z M771.2 27.4V533.6 M10 506H849.8" stroke="#e9ebf0" stroke-width="1" fill="none"/>
<path d="M10 419H849.8" stroke="#e9ebf0" stroke-width="1.4" fill="none"/>
<text x="11" y="20.4" font-size="13" fill="#131722" stroke="#131722" stroke-width="0.12" textLength="384.5" lengthAdjust="spacingAndGlyphs" >defi_sinzu published on TradingView.com, Sep 22, 2022 20:01 UTC</text>
<text x="17.7" y="48.0" font-size="13" fill="#131722" stroke="#131722" stroke-width="0.12" textLength="201.3" lengthAdjust="spacingAndGlyphs" >Ethereum / TetherUS, 4h, BINANCE</text>
<text x="227" y="48.0" font-size="13" fill="#131722" stroke="#131722" stroke-width="0.12" textLength="8.8" lengthAdjust="spacingAndGlyphs" >O</text>
<text x="236.2" y="48.0" font-size="13" fill="#26a69a" stroke="#26a69a" stroke-width="0.12" textLength="46.3" lengthAdjust="spacingAndGlyphs" >1323.88</text>
<text x="290.7" y="48.0" font-size="13" fill="#131722" stroke="#131722" stroke-width="0.12" textLength="8.3" lengthAdjust="spacingAndGlyphs" >H</text>
<text x="299" y="48.0" font-size="13" fill="#26a69a" stroke="#26a69a" stroke-width="0.12" textLength="43.3" lengthAdjust="spacingAndGlyphs" >1327.57</text>
<text x="350.6" y="48.0" font-size="13" fill="#131722" stroke="#131722" stroke-width="0.12" textLength="5.6" lengthAdjust="spacingAndGlyphs" >L</text>
<text x="355.6" y="48.0" font-size="13" fill="#26a69a" stroke="#26a69a" stroke-width="0.12" textLength="46.2" lengthAdjust="spacingAndGlyphs" >1323.87</text>
<text x="409.6" y="48.0" font-size="13" fill="#131722" stroke="#131722" stroke-width="0.12" textLength="8.2" lengthAdjust="spacingAndGlyphs" >C</text>
<text x="418.3" y="48.0" font-size="13" fill="#26a69a" stroke="#26a69a" stroke-width="0.12" textLength="45.6" lengthAdjust="spacingAndGlyphs" >1326.24</text>
<text x="472" y="48.0" font-size="13" fill="#26a69a" stroke="#26a69a" stroke-width="0.12" textLength="30.5" lengthAdjust="spacingAndGlyphs" >+2.37</text>
<text x="508.8" y="48.0" font-size="13" fill="#26a69a" stroke="#26a69a" stroke-width="0.12" textLength="50" lengthAdjust="spacingAndGlyphs" >(+0.18%)</text>
<text x="18.7" y="65.3" font-size="13" fill="#131722" stroke="#131722" stroke-width="0.12" textLength="16.5" lengthAdjust="spacingAndGlyphs" >Vol</text>
<text x="43.2" y="65.3" font-size="13" fill="#26a69a" stroke="#26a69a" stroke-width="0.12" textLength="39.3" lengthAdjust="spacingAndGlyphs" >1.403K</text>
<text x="17.8" y="82.7" font-size="13" fill="#131722" stroke="#131722" stroke-width="0.12" textLength="161.1" lengthAdjust="spacingAndGlyphs" >EMA (200, close, 0, SMA, 5)</text>
<text x="186.2" y="82.7" font-size="13" fill="#2962ff" stroke="#2962ff" stroke-width="0.12" textLength="43.6" lengthAdjust="spacingAndGlyphs" >1542.17</text>
<text x="17.8" y="99.8" font-size="13" fill="#131722" stroke="#131722" stroke-width="0.12" textLength="153.4" lengthAdjust="spacingAndGlyphs" >EMA (50, close, 0, SMA, 5)</text>
<text x="178.7" y="99.8" font-size="13" fill="#131722" stroke="#131722" stroke-width="0.12" textLength="43.3" lengthAdjust="spacingAndGlyphs" >1401.81</text>
<text x="18.4" y="440" font-size="13" fill="#131722" stroke="#131722" stroke-width="0.12" textLength="149.3" lengthAdjust="spacingAndGlyphs" >RSI (14, close, SMA, 14, 2)</text>
<text x="176.4" y="440" font-size="13" fill="#7e57c2" stroke="#7e57c2" stroke-width="0.12" textLength="32.6" lengthAdjust="spacingAndGlyphs" >46.95</text>
<text x="217.3" y="440" font-size="13" fill="#fbe44c" stroke="#fbe44c" stroke-width="0.12" textLength="32.3" lengthAdjust="spacingAndGlyphs" >38.44</text>
<circle cx="261.6" cy="436.4" r="3.15" stroke="#131722" stroke-width="0.85" fill="none"/><path d="M258.2 439.7L265.0 433" stroke="#131722" stroke-width="0.85"/>
<circle cx="277.4" cy="436.4" r="3.15" stroke="#131722" stroke-width="0.85" fill="none"/><path d="M274.0 439.7L280.8 433" stroke="#131722" stroke-width="0.85"/>
<text x="781.3" y="45.8" font-size="13" fill="#131722" stroke="#131722" stroke-width="0.12" textLength="31.8" lengthAdjust="spacingAndGlyphs" >USDT</text>
<text x="782" y="91.0" font-size="13" fill="#131722" stroke="#131722" stroke-width="0.12" textLength="48" lengthAdjust="spacingAndGlyphs" >1800.00</text>
<text x="782" y="133.47" font-size="13" fill="#131722" stroke="#131722" stroke-width="0.12" textLength="48" lengthAdjust="spacingAndGlyphs" >1700.00</text>
<text x="782" y="175.94" font-size="13" fill="#131722" stroke="#131722" stroke-width="0.12" textLength="48" lengthAdjust="spacingAndGlyphs" >1600.00</text>
<text x="782" y="218.41" font-size="13" fill="#131722" stroke="#131722" stroke-width="0.12" textLength="48" lengthAdjust="spacingAndGlyphs" >1500.00</text>
<text x="782" y="260.88" font-size="13" fill="#131722" stroke="#131722" stroke-width="0.12" textLength="48" lengthAdjust="spacingAndGlyphs" >1400.00</text>
<text x="782" y="345.82" font-size="13" fill="#131722" stroke="#131722" stroke-width="0.12" textLength="48" lengthAdjust="spacingAndGlyphs" >1200.00</text>
<text x="782" y="388.29" font-size="13" fill="#131722" stroke="#131722" stroke-width="0.12" textLength="48" lengthAdjust="spacingAndGlyphs" >1100.00</text>
<rect x="770.5" y="157" width="65.9" height="17" rx="1.6" fill="#f23645"/>
<text x="782" y="169.7" font-size="13" fill="#ffffff" stroke="#ffffff" stroke-width="0.12" textLength="48" lengthAdjust="spacingAndGlyphs" >1613.33</text>
<rect x="770.5" y="279" width="70.4" height="31.5" rx="1.8" fill="#26a69a"/>
<text x="782" y="291.9" font-size="13" fill="#ffffff" stroke="#ffffff" stroke-width="0.12" textLength="48" lengthAdjust="spacingAndGlyphs" >1326.24</text>
<text x="781.5" y="306.1" font-size="13" fill="#ffffff" stroke="#ffffff" stroke-width="0.12" textLength="51.8" lengthAdjust="spacingAndGlyphs" fill-opacity="0.8">03:58:57</text>
<g clip-path="url(#cr)">
<text x="781.3" y="427.2" font-size="13" fill="#131722" stroke="#131722" stroke-width="0.12" textLength="33.4" lengthAdjust="spacingAndGlyphs" >75.00</text>
</g>
<text x="781.3" y="460.0" font-size="13" fill="#131722" stroke="#131722" stroke-width="0.12" textLength="33.4" lengthAdjust="spacingAndGlyphs" >50.00</text>
<text x="781.3" y="493.0" font-size="13" fill="#131722" stroke="#131722" stroke-width="0.12" textLength="33.4" lengthAdjust="spacingAndGlyphs" >25.00</text>
<text x="67.50" y="525" font-size="12" fill="#131722" stroke="#131722" stroke-width="0.12" text-anchor="middle" >22</text>
<text x="168.75" y="525" font-size="12" fill="#131722" stroke="#131722" stroke-width="0.12" text-anchor="middle" >27</text>
<text x="270.00" y="525" font-size="12" fill="#131722" stroke="#131722" stroke-width="0.12" font-weight="bold" text-anchor="middle" >Sep</text>
<text x="371.25" y="525" font-size="12" fill="#131722" stroke="#131722" stroke-width="0.12" text-anchor="middle" >6</text>
<text x="492.75" y="525" font-size="12" fill="#131722" stroke="#131722" stroke-width="0.12" text-anchor="middle" >12</text>
<text x="634.50" y="525" font-size="12" fill="#131722" stroke="#131722" stroke-width="0.12" text-anchor="middle" >19</text>
<path d="M10.2 546.3H17.9V555.9H14.1V549.8H10.2Z M25.8 546.3H30L26 555.9H21.8Z" fill="#131722"/><circle cx="21.1" cy="548.5" r="1.85" fill="#131722"/>
<text x="34.0" y="557.0" font-size="14" fill="#131722" stroke="#131722" stroke-width="0.12" textLength="74.6" lengthAdjust="spacingAndGlyphs" >TradingView</text>
</svg>
</body></html>
